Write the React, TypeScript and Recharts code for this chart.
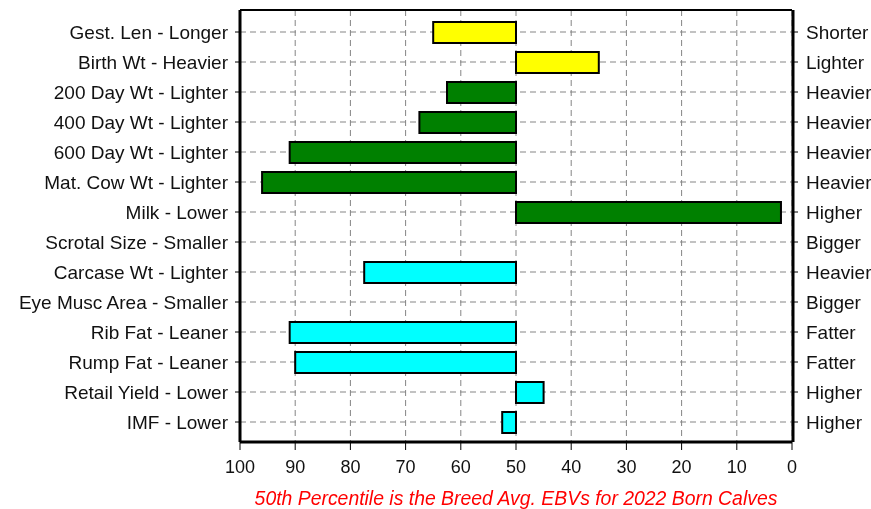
import { BarChart, Bar, XAxis, YAxis, CartesianGrid, Cell, Label } from 'recharts';

// low end label (left) / high end label (right) for each trait
const traits = [
  'Gest. Len - Longer',
  'Birth Wt - Heavier',
  '200 Day Wt - Lighter',
  '400 Day Wt - Lighter',
  '600 Day Wt - Lighter',
  'Mat. Cow Wt - Lighter',
  'Milk - Lower',
  'Scrotal Size - Smaller',
  'Carcase Wt - Lighter',
  'Eye Musc Area - Smaller',
  'Rib Fat - Leaner',
  'Rump Fat - Leaner',
  'Retail Yield - Lower',
  'IMF - Lower',
];
const highLabels = [
  'Shorter', 'Lighter', 'Heavier', 'Heavier', 'Heavier', 'Heavier', 'Higher',
  'Bigger', 'Heavier', 'Bigger', 'Fatter', 'Fatter', 'Higher', 'Higher',
];
// percentile band reached by each EBV (null = sits on the breed average)
const percentiles = [65, 35, 62.5, 67.5, 91, 96, 2, null, 77.5, null, 91, 90, 45, 52.5];
const groups = [
  'birth', 'birth', 'growth', 'growth', 'growth', 'growth', 'growth',
  'growth', 'carcase', 'carcase', 'carcase', 'carcase', 'carcase', 'carcase',
];
const groupColors: Record<string, string> = {
  birth: '#ffff00',
  growth: '#008000',
  carcase: '#00ffff',
};
const xTicks = [0, 10, 20, 30, 40, 50, 60, 70, 80, 90, 100];
const breedAvg = 50;

const data = traits.map((name, i) => ({
  name,
  range: percentiles[i] == null ? null : [breedAvg, percentiles[i]],
}));

// minor tick positions (axis decoration only)
const xMinor: number[] = [];
for (let v = 0; v <= 100; v += 2.5) xMinor.push(v);
const yMinor: number[] = [];
for (let v = -0.1; v <= 14.15; v += 0.2) yMinor.push(Math.round(v * 10) / 10);

const font = '"Liberation Sans", Arial, sans-serif';
const gridColor = '#858585';

export default function App() {
  return (
    <div style={{ position: 'fixed', left: 0, top: 0 }}>
      <BarChart
        width={871}
        height={509}
        data={data}
        layout="vertical"
        margin={{ top: 9, right: 0, bottom: 0, left: 0 }}
        barSize={21}
        style={{ fontFamily: font }}
      >
        <CartesianGrid stroke={gridColor} strokeDasharray="6 4" />
        <XAxis
          type="number"
          domain={[0, 100]}
          reversed
          ticks={xTicks}
          interval={0}
          tickSize={8}
          tickMargin={10}
          height={66}
          axisLine={{ stroke: '#000', strokeWidth: 3 }}
          tickLine={{ stroke: '#000' }}
          tick={{ fill: '#111', fontSize: 18, fontFamily: font }}
        >
          <Label
            value="50th Percentile is the Breed Avg. EBVs for 2022 Born Calves"
            position="insideBottom"
            offset={3}
            fill="#ff0000"
            fontSize={19.4}
            fontStyle="italic"
            fontFamily={font}
          />
        </XAxis>
        <XAxis
          xAxisId="minor"
          type="number"
          domain={[0, 100]}
          allowDataOverflow
          reversed
          ticks={xMinor}
          interval={0}
          tick={false}
          tickSize={4}
          axisLine={false}
          tickLine={{ stroke: '#000' }}
          height={1}
        />
        <XAxis
          xAxisId="top"
          orientation="top"
          type="number"
          domain={[0, 100]}
          allowDataOverflow
          tick={false}
          tickLine={false}
          height={1}
          axisLine={{ stroke: '#000', strokeWidth: 2 }}
        />
        <YAxis
          type="category"
          dataKey="name"
          width={239}
          interval={0}
          padding={{ top: 7, bottom: 5 }}
          tickSize={5}
          tickMargin={7}
          axisLine={{ stroke: '#000', strokeWidth: 3 }}
          tickLine={{ stroke: '#000' }}
          tick={{ fill: '#111', fontSize: 19, fontFamily: font }}
        />
        <YAxis
          yAxisId="minorL"
          type="number"
          domain={[-7 / 30, 425 / 30]}
          allowDataOverflow
          reversed
          ticks={yMinor}
          interval={0}
          tick={false}
          tickSize={3}
          width={1}
          axisLine={false}
          tickLine={{ stroke: '#000' }}
        />
        <YAxis
          yAxisId="right"
          orientation="right"
          type="category"
          dataKey="name"
          width={78}
          interval={0}
          padding={{ top: 7, bottom: 5 }}
          tickSize={5}
          tickMargin={8}
          tickFormatter={(_v: string, i: number) => highLabels[i]}
          axisLine={{ stroke: '#000', strokeWidth: 3 }}
          tickLine={{ stroke: '#000' }}
          tick={{ fill: '#111', fontSize: 19, fontFamily: font, textAnchor: 'start' }}
        />
        <YAxis
          yAxisId="minorR"
          orientation="right"
          type="number"
          domain={[-7 / 30, 425 / 30]}
          allowDataOverflow
          reversed
          ticks={yMinor}
          interval={0}
          tick={false}
          tickSize={3}
          width={1}
          axisLine={false}
          tickLine={{ stroke: '#000' }}
        />
        <Bar dataKey="range" stroke="#000" strokeWidth={2} isAnimationActive={false}>
          {data.map((d, i) => (
            <Cell key={d.name} fill={groupColors[groups[i]]} />
          ))}
        </Bar>
      </BarChart>
    </div>
  );
}
